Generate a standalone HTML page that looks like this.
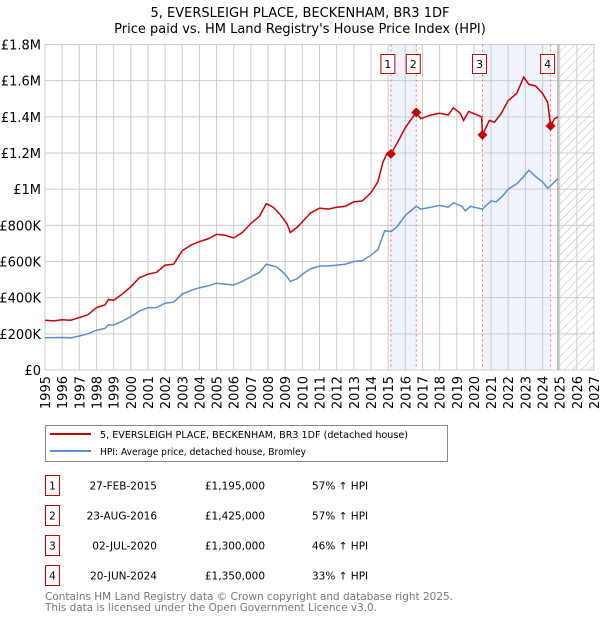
<!DOCTYPE html>
<html><head><meta charset="utf-8"><style>
html,body{margin:0;padding:0;background:#fff;}
svg{display:block;font-family:"DejaVu Sans","Liberation Sans",sans-serif;}
</style></head><body>
<svg id="chart" width="600" height="620" viewBox="0 0 600 620" xmlns="http://www.w3.org/2000/svg">
<defs>
<pattern id="hatch" width="6" height="6" patternUnits="userSpaceOnUse" patternTransform="rotate(45)">
<line x1="0" y1="0" x2="0" y2="6" stroke="#bbb" stroke-width="1"/>
</pattern>
</defs>
<text x="300" y="17" text-anchor="middle" font-size="13">5, EVERSLEIGH PLACE, BECKENHAM, BR3 1DF</text>
<text x="300" y="33" text-anchor="middle" font-size="13">Price paid vs. HM Land Registry's House Price Index (HPI)</text>
<g id="plot"></g>
<g>
<rect x="45.5" y="425.5" width="402" height="36" fill="#fff" stroke="#888"/>
<line x1="50" y1="434" x2="91" y2="434" stroke="#cc0000" stroke-width="2"/>
<text x="100" y="438" font-size="10" textLength="308" lengthAdjust="spacingAndGlyphs">5, EVERSLEIGH PLACE, BECKENHAM, BR3 1DF (detached house)</text>
<line x1="50" y1="451" x2="91" y2="451" stroke="#5b8fd4" stroke-width="2"/>
<text x="100" y="455" font-size="10" textLength="206" lengthAdjust="spacingAndGlyphs">HPI: Average price, detached house, Bromley</text>
</g>
<g id="table"></g>
<text x="45" y="600" font-size="11" fill="#777" textLength="408" lengthAdjust="spacingAndGlyphs">Contains HM Land Registry data © Crown copyright and database right 2025.</text>
<text x="45" y="611" font-size="11" fill="#777" textLength="332" lengthAdjust="spacingAndGlyphs">This data is licensed under the Open Government Licence v3.0.</text>
</svg>
<script>
const yTicks=[0,200,400,600,800,1000,1200,1400,1600,1800];
const yTickLabels=["£0","£200K","£400K","£600K","£800K","£1M","£1.2M","£1.4M","£1.6M","£1.8M"];
const years=[1995,1996,1997,1998,1999,2000,2001,2002,2003,2004,2005,2006,2007,2008,2009,2010,2011,2012,2013,2014,2015,2016,2017,2018,2019,2020,2021,2022,2023,2024,2025,2026,2027];
const redT=[1995,1995.5,1996,1996.5,1997,1997.5,1998,1998.5,1998.7,1999,1999.5,2000,2000.5,2001,2001.5,2002,2002.5,2003,2003.5,2004,2004.5,2005,2005.5,2006,2006.5,2007,2007.5,2007.9,2008.3,2008.7,2009.1,2009.3,2009.7,2010,2010.5,2011,2011.5,2012,2012.5,2013,2013.5,2014,2014.4,2014.7,2014.95,2015.16,2015.5,2016,2016.64,2016.9,2017.2,2017.5,2018,2018.5,2018.8,2019.2,2019.4,2019.7,2020.2,2020.45,2020.5,2020.9,2021.2,2021.6,2022,2022.5,2022.9,2023.2,2023.6,2024.0,2024.3,2024.47,2024.7,2024.9];
const redV=[275,272,278,275,290,305,345,360,390,385,420,460,510,530,540,580,585,660,690,710,725,750,745,730,760,810,850,920,900,860,810,760,790,820,870,895,890,900,905,930,935,980,1040,1150,1200,1195,1250,1340,1425,1390,1400,1410,1420,1410,1450,1420,1380,1430,1410,1400,1300,1380,1370,1420,1490,1530,1620,1580,1570,1530,1480,1350,1390,1400];
const blueT=[1995,1996,1996.5,1997,1997.5,1998,1998.5,1998.7,1999,1999.5,2000,2000.5,2001,2001.5,2002,2002.5,2003,2003.5,2004,2004.5,2005,2005.5,2006,2006.5,2007,2007.5,2007.9,2008.5,2009,2009.3,2009.7,2010,2010.5,2011,2011.5,2012,2012.5,2013,2013.5,2014,2014.4,2014.8,2015.16,2015.5,2016,2016.64,2016.9,2017.5,2018,2018.5,2018.8,2019.3,2019.5,2019.8,2020.5,2021,2021.3,2021.7,2022,2022.5,2022.9,2023.2,2023.6,2024,2024.3,2024.6,2024.9];
const blueV=[178,180,178,188,200,220,230,250,248,270,295,325,345,345,370,375,420,440,455,465,480,475,470,490,515,540,585,570,530,490,505,530,560,575,575,580,585,600,605,635,665,770,765,790,855,905,890,900,910,900,925,905,880,905,890,935,930,965,1000,1030,1070,1105,1070,1040,1005,1030,1060];
const saleNums=["1","2","3","4"];
const saleT=[2015.16,2016.64,2020.5,2024.47];
const saleV=[1195,1425,1300,1350];
const saleDates=["27-FEB-2015","23-AUG-2016","02-JUL-2020","20-JUN-2024"];
const salePrices=["£1,195,000","£1,425,000","£1,300,000","£1,350,000"];
const saleHpi=["57% ↑ HPI","57% ↑ HPI","46% ↑ HPI","33% ↑ HPI"];
const dataEnd=2024.9;

const L=45,R=594,T=44.5,B=370;
const X=t=>L+(t-1995)/(2027-1995)*(R-L);
const Y=v=>B-v/1800*(B-T);
const NS="http://www.w3.org/2000/svg";
function mk(tag,attrs,parent){const e=document.createElementNS(NS,tag);for(const k in attrs)e.setAttribute(k,attrs[k]);parent.appendChild(e);return e;}
const plot=document.getElementById('plot');
for(let i=0;i<saleT.length;i+=2){
 const r=mk('rect',{x:X(saleT[i]),y:T,width:X(saleT[i+1])-X(saleT[i]),height:B-T,fill:'#eef3fc'},plot);
 
 
}
const h=mk('rect',{x:X(dataEnd),y:T,width:R-X(dataEnd),height:B-T,fill:'url(#hatch)'},plot);


yTicks.forEach((v,i)=>{
 const g=mk('line',{x1:L,x2:R,y1:Y(v),y2:Y(v),stroke:'#ccc','stroke-width':1},plot);
 
 
 const t=mk('text',{x:L-4,y:Y(v)+5,'text-anchor':'end','font-size':13},plot);
 
 
 t.textContent=yTickLabels[i];
});
years.forEach(yr=>{
 const g=mk('line',{x1:X(yr),x2:X(yr),y1:T,y2:B,stroke:'#ccc','stroke-width':1},plot);
 
 
 const t=mk('text',{x:0,y:0,'text-anchor':'end','font-size':13,transform:`translate(${X(yr)+5},${B+6}) rotate(-90)`},plot);
 
 
 t.textContent=yr;
});
const fr=mk('rect',{x:L,y:T,width:R-L,height:B-T,fill:'none',stroke:'#ccc'},plot);


const dl=mk('line',{x1:X(dataEnd),x2:X(dataEnd),y1:T,y2:B,stroke:'#888','stroke-width':1},plot);


saleT.forEach((t,i)=>{
 const l=mk('line',{x1:X(t),x2:X(t),y1:T,y2:B,stroke:'#f07070','stroke-width':1,'stroke-dasharray':'2,3'},plot);
 
 
});
const bp=mk('polyline',{points:blueT.map((t,i)=>X(t)+','+Y(blueV[i])).join(' '),fill:'none',stroke:'#5b8fd4','stroke-width':1.5},plot);


const rp=mk('polyline',{points:redT.map((t,i)=>X(t)+','+Y(redV[i])).join(' '),fill:'none',stroke:'#cc0000','stroke-width':1.5},plot);


saleT.forEach((t,i)=>{
 const x=X(t),y=Y(saleV[i]);
 const d=mk('polygon',{points:`${x},${y-5} ${x+5},${y} ${x},${y+5} ${x-5},${y}`,fill:'#cc0000'},plot);
 
 
 const cx=X(t)-3;
 const b=mk('rect',{x:cx-7,y:54.5,width:14,height:19,fill:'#fff',stroke:'#cc0000'},plot);
 
 
 const tx=mk('text',{x:cx,y:68,'text-anchor':'middle','font-size':11},plot);
 
 
 tx.textContent=saleNums[i];
});
const tb=document.getElementById('table');
saleNums.forEach((n,i)=>{
 const y=475.5+i*30;
 const b=mk('rect',{x:45.5,y:y,width:14,height:20,fill:'#fff',stroke:'#cc0000'},tb);
 
 
 const cells=[[52.5,n,'middle'],[157,saleDates[i],'end'],[265,salePrices[i],'end'],[312,saleHpi[i],'start']];
 cells.forEach(c=>{
  const t=mk('text',{x:c[0],y:y+14,'text-anchor':c[2],'font-size':10.5},tb);
  
  
  t.textContent=c[1];
 });
});
</script>
</body></html>
